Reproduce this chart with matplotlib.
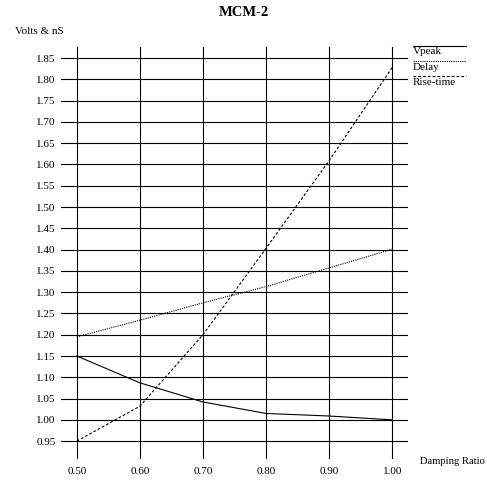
import matplotlib
matplotlib.use('Agg')
import matplotlib.pyplot as plt
from matplotlib.lines import Line2D

# values
damping = [0.50, 0.60, 0.70, 0.80, 0.90, 1.00]
vpeak = [1.150, 1.087, 1.042, 1.015, 1.009, 1.000]
delay = [1.195, 1.234, 1.275, 1.313, 1.357, 1.401]
rise_time = [0.950, 1.032, 1.200, 1.403, 1.609, 1.828]

x_ticks = [0.50, 0.60, 0.70, 0.80, 0.90, 1.00]
y_ticks = [0.95 + 0.05 * i for i in range(19)]

plt.rcParams['font.family'] = ['Liberation Serif', 'DejaVu Serif']

W, H = 487, 483
fig = plt.figure(figsize=(W / 100, H / 100), dpi=100)

# axes box = extent of the grid lines (pixels)
left, right, top, bottom = 61, 408, 47, 459
ax = fig.add_axes([left / W, 1 - bottom / H, (right - left) / W, (bottom - top) / H])
ax.set_xlim(0.475, 1.025)
ax.set_ylim(0.908, 1.876)

for s in ax.spines.values():
    s.set_visible(False)

ax.set_xticks(x_ticks)
ax.set_xticklabels([f'{v:.2f}' for v in x_ticks])
ax.set_yticks(y_ticks)
ax.set_yticklabels([f'{v:.2f}' for v in y_ticks])
ax.tick_params(axis='both', length=0, labelsize=8)
ax.tick_params(axis='y', pad=4)
ax.tick_params(axis='x', pad=6)
ax.grid(True, color='black', linewidth=0.8)
ax.set_axisbelow(True)

ax.plot(damping, vpeak, color='black', linewidth=0.8, linestyle='-')
ax.plot(damping, delay, color='black', linewidth=0.8, linestyle=(0, (1, 1)))
ax.plot(damping, rise_time, color='black', linewidth=0.8, linestyle=(0, (2.5, 1.8)))

fig.text(0.5, 1 - 12.5 / H, 'MCM-2', ha='center', va='center',
         fontsize=10.5, fontweight='bold')
fig.text(15 / W, 1 - 32 / H, 'Volts & nS', ha='left', va='center', fontsize=8)
fig.text(420 / W, 1 - 461 / H, 'Damping Ratio', ha='left', va='center', fontsize=7.6)

# legend drawn at the right edge
legend_items = [('Vpeak', '-', 45.5), ('Delay', (0, (1, 1)), 60.5),
                ('Rise-time', (0, (2.5, 1.8)), 76)]
for label, ls, ypix in legend_items:
    fig.add_artist(Line2D([413 / W, 466 / W], [1 - ypix / H, 1 - ypix / H],
                          transform=fig.transFigure, color='black',
                          linewidth=0.8, linestyle=ls))
    fig.text(413 / W, 1 - (ypix + 6.5) / H, label, ha='left', va='center',
             fontsize=8)

fig.savefig('out.png', dpi=100)
